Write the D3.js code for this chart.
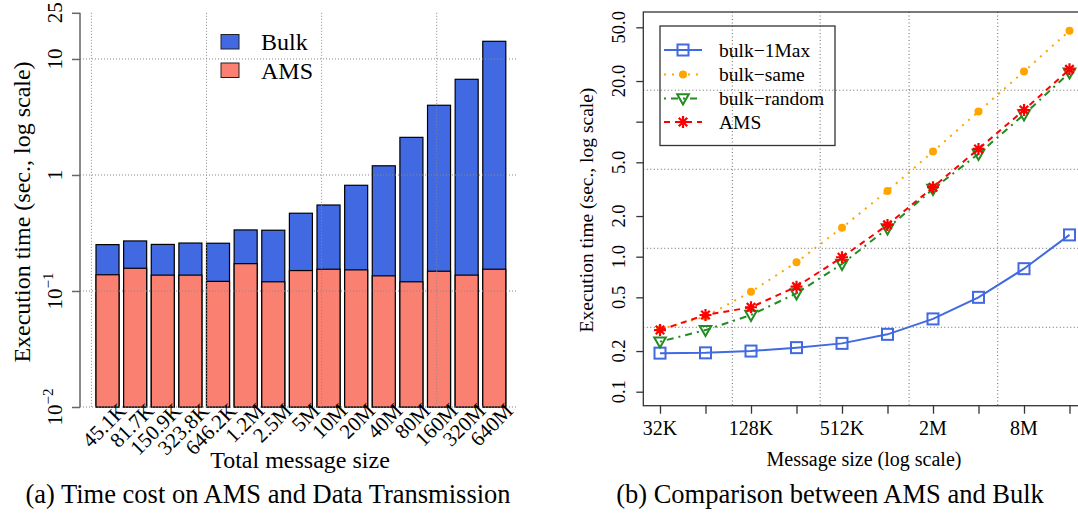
<!DOCTYPE html>
<html>
<head>
<meta charset="utf-8">
<script src="https://cdn.jsdelivr.net/npm/d3@7"></script>
<style>
  html, body { margin: 0; padding: 0; background: #fff; }
  svg { display: block; font-family: "Liberation Serif", "Times New Roman", serif; }
</style>
</head>
<body>
<svg id="chart" width="1078" height="514"></svg>
<script>
// ---------- Data: (a) bar chart ----------
const sizeLabels = ["45.1K","81.7K","150.9K","323.8K","646.2K","1.2M","2.5M","5M","10M","20M","40M","80M","160M","320M","640M"];
const bulkTime = [0.251,0.270,0.252,0.259,0.258,0.336,0.334,0.468,0.551,0.815,1.20,2.11,3.99,6.68,14.2];
const amsTime  = [0.138,0.157,0.137,0.137,0.121,0.172,0.120,0.150,0.154,0.152,0.135,0.120,0.148,0.137,0.154];
const leftYTicks = [0.01, 0.1, 1, 10, 25];
const leftLegend = ["Bulk", "AMS"];

// ---------- Data: (b) line chart ----------
const msgSizes = [32768, 65536, 131072, 262144, 524288, 1048576, 2097152, 4194304, 8388608, 16777216];
const msgTickLabels = ["32K", "", "128K", "", "512K", "", "2M", "", "8M", ""];
const bulk1Max   = [0.193, 0.194, 0.200, 0.212, 0.228, 0.266, 0.346, 0.500, 0.815, 1.45];
const bulkSame   = [0.29, 0.36, 0.55, 0.91, 1.64, 3.07, 6.0, 11.9, 23.5, 47.2];
const bulkRandom = [0.235, 0.286, 0.370, 0.535, 0.883, 1.62, 3.17, 5.77, 11.3, 23.1];
const amsLine    = [0.286, 0.370, 0.422, 0.600, 0.99, 1.72, 3.27, 6.28, 12.2, 24.4];
const rightYTicks = [0.1, 0.2, 0.5, 1, 2, 5, 10, 20, 50];
const rightYLabels = ["0.1", "0.2", "0.5", "1.0", "2.0", "5.0", "", "20.0", "50.0"];
const seriesNames = ["bulk\u22121Max", "bulk\u2212same", "bulk\u2212random", "AMS"];
// grid positions (as in the original figure)
const leftGridUnits = [0, 5, 10, 15];
const rightGridY = [0.300, 1.154, 4.44, 17.1];
const rightGridX = [98600, 376000, 1457000, 5620000];

const svg = d3.select("#chart");

// =============== (a) ===============
const gA = svg.append("g");
const yA = d3.scaleLog().domain([0.01, 25]).range([407, 12.8]);
const xBand = d3.scaleBand().domain(sizeLabels).range([91.4, 505.8])
  .paddingInner(1/6).paddingOuter(1/12).align(1);
const xUnit = d3.scaleLinear().domain([0, 18]).range([91.4, 505.8]);

const COL_BULK = "#4169E1", COL_AMS = "#FA8072";

// bars: Bulk (total) then AMS
gA.selectAll("rect.bulk").data(bulkTime).join("rect")
  .attr("x", (d, i) => xBand(sizeLabels[i]))
  .attr("width", xBand.bandwidth())
  .attr("y", d => yA(d))
  .attr("height", d => yA(0.01) - yA(d))
  .attr("fill", COL_BULK).attr("stroke", "#000").attr("stroke-width", 1.2);
gA.selectAll("rect.ams").data(amsTime).join("rect")
  .attr("x", (d, i) => xBand(sizeLabels[i]))
  .attr("width", xBand.bandwidth())
  .attr("y", d => yA(d))
  .attr("height", d => yA(0.01) - yA(d))
  .attr("fill", COL_AMS).attr("stroke", "#000").attr("stroke-width", 1.2);

// grid (drawn over the bars)
gA.selectAll("line.hg").data([0.01, 0.1, 1, 10]).join("line")
  .attr("x1", 80).attr("x2", 517)
  .attr("y1", d => yA(d)).attr("y2", d => yA(d))
  .attr("stroke", "#888").attr("stroke-width", 1).attr("stroke-dasharray", "1,2");
gA.selectAll("line.vg").data(leftGridUnits).join("line")
  .attr("x1", d => xUnit(d)).attr("x2", d => xUnit(d))
  .attr("y1", yA(25)).attr("y2", yA(0.01))
  .attr("stroke", "#888").attr("stroke-width", 1).attr("stroke-dasharray", "1,2");

// y axis
const axA = gA.append("g").attr("transform", "translate(80,0)")
  .call(d3.axisLeft(yA).tickValues(leftYTicks).tickSize(8).tickFormat(""));
axA.selectAll("path.domain").attr("stroke", "#666").attr("stroke-width", 1.5)
  .attr("d", `M0,${yA(25)}V${yA(0.01)}`);
axA.selectAll(".tick line").attr("stroke", "#666").attr("stroke-width", 1.5);

// y tick labels (rotated)
leftYTicks.forEach(v => {
  const t = gA.append("text")
    .attr("transform", `translate(62,${yA(v)}) rotate(-90)`)
    .attr("text-anchor", "middle").attr("font-size", 21).attr("fill", "#000");
  if (v === 0.01 || v === 0.1) {
    t.append("tspan").text("10");
    t.append("tspan").attr("font-size", 15).attr("dy", -9).text(v === 0.01 ? "\u22122" : "\u22121");
  } else {
    t.text(String(v));
  }
});

// x labels rotated 45
gA.selectAll("text.xl").data(sizeLabels).join("text")
  .attr("transform", d => `translate(${xBand(d) + xBand.bandwidth()/2 + 20},412) rotate(-45)`)
  .attr("text-anchor", "end").attr("font-size", 21).text(d => d);

// titles
gA.append("text").attr("transform", "translate(30,212) rotate(-90)")
  .attr("text-anchor", "middle").attr("font-size", 24)
  .text("Execution time (sec., log scale)");
gA.append("text").attr("x", 300).attr("y", 468).attr("text-anchor", "middle")
  .attr("font-size", 24).text("Total message size");
gA.append("text").attr("x", 268).attr("y", 503).attr("text-anchor", "middle")
  .attr("font-size", 26.5).text("(a) Time cost on AMS and Data Transmission");

// legend
const legA = gA.append("g");
[COL_BULK, COL_AMS].forEach((c, i) => {
  legA.append("rect").attr("x", 221).attr("y", 34.5 + i * 28.5).attr("width", 18).attr("height", 14.5)
    .attr("fill", c).attr("stroke", "#222").attr("stroke-width", 1);
  legA.append("text").attr("x", 261).attr("y", 50 + i * 28.5).attr("font-size", 24).text(leftLegend[i]);
});

// =============== (b) ===============
const gB = svg.append("g");
const xB = d3.scaleLog().base(2).domain([32768, 16777216]).range([660, 1069.5]);
const yB = d3.scaleLog().domain([0.1, 50]).range([391.7, 27.3]);
const box = { l: 643.3, t: 12, r: 1085, b: 405.7 };

// grid
gB.selectAll("line.hg").data(rightGridY).join("line")
  .attr("x1", box.l).attr("x2", box.r)
  .attr("y1", d => yB(d)).attr("y2", d => yB(d))
  .attr("stroke", "#666").attr("stroke-width", 1).attr("stroke-dasharray", "1,2.5");
gB.selectAll("line.vg").data(rightGridX).join("line")
  .attr("x1", d => xB(d)).attr("x2", d => xB(d))
  .attr("y1", box.t).attr("y2", box.b)
  .attr("stroke", "#666").attr("stroke-width", 1).attr("stroke-dasharray", "1,2.5");

// box
gB.append("rect").attr("x", box.l).attr("y", box.t).attr("width", box.r - box.l).attr("height", box.b - box.t)
  .attr("fill", "none").attr("stroke", "#333").attr("stroke-width", 1.3);

// axes
const axBx = gB.append("g").attr("transform", `translate(0,${box.b})`)
  .call(d3.axisBottom(xB).tickValues(msgSizes).tickSize(8).tickFormat(""));
axBx.select("path.domain").remove();
axBx.selectAll(".tick line").attr("stroke", "#333").attr("stroke-width", 1.3);
gB.selectAll("text.xt").data(msgSizes).join("text")
  .attr("x", d => xB(d)).attr("y", 435).attr("text-anchor", "middle")
  .attr("font-size", 20).text((d, i) => msgTickLabels[i]);

const axBy = gB.append("g").attr("transform", `translate(${box.l},0)`)
  .call(d3.axisLeft(yB).tickValues(rightYTicks).tickSize(7).tickFormat(""));
axBy.select("path.domain").remove();
axBy.selectAll(".tick line").attr("stroke", "#333").attr("stroke-width", 1.3);
gB.selectAll("text.yt").data(rightYTicks).join("text")
  .attr("transform", d => `translate(625,${yB(d)}) rotate(-90)`)
  .attr("text-anchor", "middle").attr("font-size", 18.5).text((d, i) => rightYLabels[i]);

// titles
gB.append("text").attr("transform", "translate(593,210) rotate(-90)")
  .attr("text-anchor", "middle").attr("font-size", 19.5)
  .text("Execution time (sec., log scale)");
gB.append("text").attr("x", 864).attr("y", 466).attr("text-anchor", "middle")
  .attr("font-size", 20).text("Message size (log scale)");
gB.append("text").attr("x", 830).attr("y", 503).attr("text-anchor", "middle")
  .attr("font-size", 26.5).text("(b) Comparison between AMS and Bulk");

// series
const styles = [
  { data: bulk1Max,   color: "#4169E1", dash: null,      marker: "square" },
  { data: bulkSame,   color: "#FFA500", dash: "2,6",     marker: "dot" },
  { data: bulkRandom, color: "#228B22", dash: "2,5,7,5", marker: "tri" },
  { data: amsLine,    color: "#FF0000", dash: "6,5",     marker: "star" }
];
const lineGen = d3.line().x((d, i) => xB(msgSizes[i])).y(d => yB(d));

function drawMarker(g, type, x, y, color) {
  if (type === "square") {
    g.append("rect").attr("x", x - 5.5).attr("y", y - 5.5).attr("width", 11).attr("height", 11)
      .attr("fill", "none").attr("stroke", color).attr("stroke-width", 2);
  } else if (type === "dot") {
    g.append("circle").attr("cx", x).attr("cy", y).attr("r", 4).attr("fill", color);
  } else if (type === "tri") {
    g.append("path").attr("d", `M${x - 5.8},${y - 4.2}L${x + 5.8},${y - 4.2}L${x},${y + 6}Z`)
      .attr("fill", "none").attr("stroke", color).attr("stroke-width", 2);
  } else if (type === "star") {
    const r = 6, q = r * 0.7071;
    g.append("path").attr("d",
      `M${x - r},${y}L${x + r},${y}M${x},${y - r}L${x},${y + r}` +
      `M${x - q},${y - q}L${x + q},${y + q}M${x - q},${y + q}L${x + q},${y - q}`)
      .attr("stroke", color).attr("stroke-width", 2.2).attr("fill", "none");
  }
}

styles.forEach(s => {
  const g = gB.append("g");
  g.append("path").attr("d", lineGen(s.data)).attr("fill", "none")
    .attr("stroke", s.color).attr("stroke-width", 2)
    .attr("stroke-dasharray", s.dash);
  s.data.forEach((v, i) => drawMarker(g, s.marker, xB(msgSizes[i]), yB(v), s.color));
});

// legend
const legB = gB.append("g");
legB.append("rect").attr("x", 660).attr("y", 26).attr("width", 175).attr("height", 119.5)
  .attr("fill", "none").attr("stroke", "#333").attr("stroke-width", 1.3);
const legRows = [50, 74.5, 98.5, 122];
styles.forEach((s, i) => {
  const yy = legRows[i];
  legB.append("line").attr("x1", 664).attr("x2", 702).attr("y1", yy).attr("y2", yy)
    .attr("stroke", s.color).attr("stroke-width", 2).attr("stroke-dasharray", s.dash);
  drawMarker(legB, s.marker, 683, yy, s.color);
  legB.append("text").attr("x", 719).attr("y", yy + 6.5).attr("font-size", 19.5).text(seriesNames[i]);
});
</script>
</body>
</html>
